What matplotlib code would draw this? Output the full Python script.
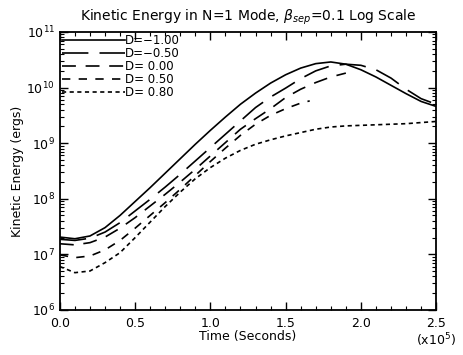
import matplotlib
matplotlib.use("Agg")
import matplotlib.pyplot as plt
import numpy as np

# ---- data (time in units of 1e5 s, log10 of kinetic energy in ergs) ----
t_full = [0.0, 0.1, 0.2, 0.3, 0.4, 0.5, 0.6, 0.7, 0.8, 0.9, 1.0, 1.1, 1.2,
          1.3, 1.4, 1.5, 1.6, 1.7, 1.8, 1.9, 2.0, 2.1, 2.2, 2.3, 2.4, 2.5]
logE_dm100 = [7.31, 7.28, 7.33, 7.48, 7.70, 7.95, 8.20, 8.46, 8.72, 8.98, 9.23,
              9.47, 9.70, 9.90, 10.08, 10.23, 10.35, 10.43, 10.46, 10.42, 10.32,
              10.19, 10.04, 9.89, 9.75, 9.66]
logE_dm050 = [7.27, 7.25, 7.29, 7.40, 7.57, 7.78, 7.99, 8.21, 8.44, 8.68, 8.92,
              9.16, 9.40, 9.64, 9.83, 9.99, 10.16, 10.30, 10.39, 10.42, 10.40,
              10.32, 10.17, 9.97, 9.80, 9.70]
t_d000 = [0.0, 0.1, 0.2, 0.3, 0.4, 0.5, 0.6, 0.7, 0.8, 0.9, 1.0, 1.1, 1.2,
          1.3, 1.4, 1.5, 1.6, 1.7, 1.8, 1.9]
logE_d000 = [7.19, 7.17, 7.21, 7.31, 7.47, 7.66, 7.87, 8.08, 8.30, 8.53, 8.77,
             9.01, 9.25, 9.44, 9.62, 9.82, 9.97, 10.09, 10.19, 10.26]
t_d050 = [0.0, 0.1, 0.2, 0.3, 0.4, 0.5, 0.6, 0.7, 0.8, 0.9, 1.0, 1.1, 1.2,
          1.3, 1.4, 1.5, 1.6, 1.66]
logE_d050 = [6.99, 6.94, 6.97, 7.08, 7.25, 7.47, 7.70, 7.93, 8.17, 8.42, 8.67,
             8.91, 9.14, 9.34, 9.50, 9.62, 9.72, 9.76]
logE_d080 = [6.78, 6.67, 6.70, 6.85, 7.03, 7.30, 7.58, 7.86, 8.12, 8.36, 8.56,
             8.73, 8.87, 8.98, 9.06, 9.13, 9.19, 9.25, 9.29, 9.31, 9.32, 9.33,
             9.34, 9.35, 9.37, 9.39]

labels = ["D=\u22121.00", "D=\u22120.50", "D= 0.00", "D= 0.50", "D= 0.80"]
xticks = [0.0, 0.5, 1.0, 1.5, 2.0, 2.5]
xticklabels = ["0.0", "0.5", "1.0", "1.5", "2.0", "2.5"]

plt.rcParams['lines.scale_dashes'] = False
plt.rcParams['font.family'] = ['DejaVu Sans']

fig = plt.figure(figsize=(4.64, 3.55), dpi=100)
ax = fig.add_axes([0.129, 0.127, 0.811, 0.783])

lw = 1.2
series = [
    (t_full, logE_dm100, None),
    (t_full, logE_dm050, (19, 8)),
    (t_d000, logE_d000, (10, 7)),
    (t_d050, logE_d050, (6, 6)),
    (t_full, logE_d080, (3, 2.5)),
]
for (tx, ly, dash), lab in zip(series, labels):
    line, = ax.plot(tx, 10 ** np.array(ly), color='black', lw=lw, label=lab)
    if dash is not None:
        line.set_dashes(dash)

ax.set_yscale('log')
ax.set_xlim(0, 2.5)
ax.set_ylim(1e6, 1e11)
ax.set_xticks(xticks)
ax.set_xticklabels(xticklabels)
ax.xaxis.set_minor_locator(matplotlib.ticker.MultipleLocator(0.1))
ax.tick_params(which='both', direction='in', top=True, right=True, labelsize=9)
ax.tick_params(which='major', length=6, width=1)
ax.tick_params(which='minor', length=3, width=0.8)
ax.tick_params(axis='x', pad=5)
for s in ax.spines.values():
    s.set_linewidth(1.3)

ax.set_xlabel("Time (Seconds)", fontsize=9, labelpad=0)
ax.set_ylabel("Kinetic Energy (ergs)", fontsize=9, labelpad=2)
ax.set_title(r"Kinetic Energy in N=1 Mode, $\beta_{sep}$=0.1 Log Scale",
             fontsize=10, pad=8)
ax.text(1.0, -0.078, r"(x10$^{5}$)", transform=ax.transAxes, fontsize=9,
        ha='center', va='top')

leg = ax.legend(loc='upper left', bbox_to_anchor=(0.0, 1.0), frameon=False,
                fontsize=8.5, handlelength=5.3, handletextpad=0.0,
                labelspacing=0.0, borderaxespad=0.1, borderpad=0.1)

fig.savefig("out.png", dpi=100)
